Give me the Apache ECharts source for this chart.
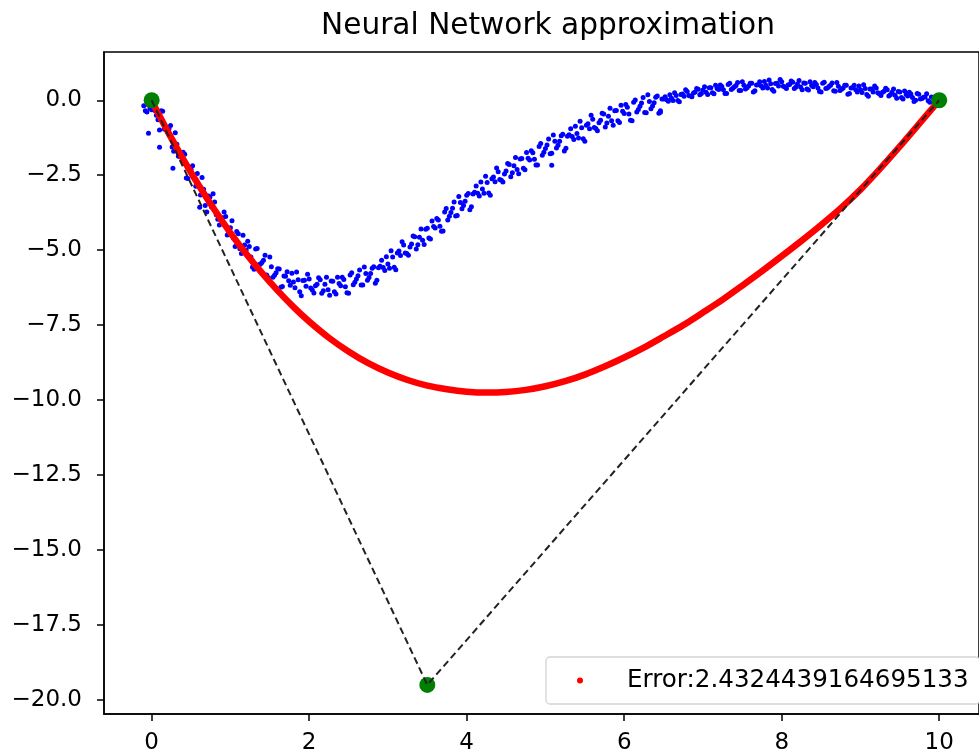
<!DOCTYPE html>
<html>
<head>
<meta charset="utf-8">
<script src="https://cdn.jsdelivr.net/npm/echarts@6/dist/echarts.min.js"></script>
<style>
  html, body { margin: 0; padding: 0; background: #fff; }
  #chart { width: 979px; height: 755px; }
</style>
</head>
<body>
<div id="chart"></div>
<script>
var titleText = 'Neural Network approximation';
var legendName = 'Error:2.4324439164695133';

var xTicks = [0, 2, 4, 6, 8, 10];
var yTicks = [0, -2.5, -5, -7.5, -10, -12.5, -15, -17.5, -20];

// noisy samples (blue) in two passes
var bluePointsA = [
  [-0.10,-0.18],[-0.06,-0.39],[-0.02,-0.27],[0.02,-0.24],[0.06,-0.50],[0.10,-0.99],[0.14,-0.37],[0.18,-0.98],
  [0.22,-0.95],[0.26,-1.56],[0.30,-1.08],[0.34,-1.87],[0.38,-1.84],[0.42,-1.80],[0.46,-2.61],[0.50,-2.30],
  [0.54,-2.61],[0.58,-2.44],[0.62,-3.16],[0.66,-2.97],[0.70,-3.73],[0.74,-3.23],[0.78,-3.12],[0.82,-3.82],
  [0.86,-4.16],[0.90,-3.92],[0.94,-3.88],[0.98,-4.43],[1.02,-4.02],[1.06,-4.88],[1.10,-4.45],[1.14,-5.11],
  [1.18,-4.83],[1.22,-4.70],[1.26,-5.23],[1.30,-5.64],[1.34,-4.94],[1.38,-5.47],[1.42,-5.34],[1.46,-5.83],
  [1.50,-5.23],[1.54,-5.90],[1.58,-5.75],[1.62,-5.63],[1.66,-6.21],[1.70,-5.87],[1.74,-6.02],[1.78,-5.77],
  [1.82,-6.25],[1.86,-5.99],[1.90,-6.52],[1.94,-6.00],[1.98,-5.80],[2.02,-6.26],[2.06,-6.43],[2.10,-6.14],
  [2.14,-5.99],[2.18,-6.35],[2.22,-5.90],[2.26,-6.50],[2.30,-6.04],[2.34,-6.46],[2.38,-6.11],[2.42,-5.90],
  [2.46,-6.22],[2.50,-6.44],[2.54,-5.75],[2.58,-6.07],[2.62,-5.85],[2.66,-6.16],[2.70,-5.56],[2.74,-6.00],
  [2.78,-5.78],[2.82,-5.55],[2.86,-6.00],[2.90,-5.54],[2.94,-5.58],[2.98,-5.22],[3.02,-5.60],[3.06,-5.23],
  [3.10,-5.65],[3.14,-5.03],[3.18,-4.72],[3.22,-5.09],[3.26,-5.17],[3.30,-4.79],[3.34,-4.55],[3.38,-4.82],
  [3.42,-4.29],[3.46,-4.81],[3.50,-4.27],[3.54,-4.63],[3.58,-4.21],[3.62,-3.94],[3.66,-4.20],[3.70,-4.36],
  [3.74,-3.61],[3.78,-3.87],[3.82,-3.60],[3.86,-3.86],[3.90,-3.21],[3.94,-3.62],[3.98,-3.37],[4.02,-3.11],
  [4.06,-3.55],[4.10,-3.07],[4.14,-3.10],[4.18,-2.73],[4.22,-3.10],[4.26,-2.74],[4.30,-3.17],[4.34,-2.56],
  [4.38,-2.26],[4.42,-2.64],[4.46,-2.73],[4.50,-2.36],[4.54,-2.14],[4.58,-2.42],[4.62,-1.91],[4.66,-2.45],
  [4.70,-1.94],[4.74,-2.32],[4.78,-1.93],[4.82,-1.68],[4.86,-1.97],[4.90,-2.16],[4.94,-1.44],[4.98,-1.73],
  [5.02,-1.49],[5.06,-1.78],[5.10,-1.16],[5.14,-1.59],[5.18,-1.37],[5.22,-1.13],[5.26,-1.60],[5.30,-1.15],
  [5.34,-1.21],[5.38,-0.87],[5.42,-1.26],[5.46,-0.92],[5.50,-1.37],[5.54,-0.78],[5.58,-0.50],[5.62,-0.91],
  [5.66,-1.02],[5.70,-0.67],[5.74,-0.46],[5.78,-0.76],[5.82,-0.27],[5.86,-0.83],[5.90,-0.34],[5.94,-0.74],
  [5.98,-0.37],[6.02,-0.14],[6.06,-0.46],[6.10,-0.68],[6.14,0.01],[6.18,-0.31],[6.22,-0.09],[6.26,-0.41],
  [6.30,0.18],[6.34,-0.28],[6.38,-0.08],[6.42,0.14],[6.46,-0.35],[6.50,0.04],[6.54,0.02],[6.58,0.18],
  [6.62,-0.01],[6.66,0.16],[6.70,-0.05],[6.74,0.21],[6.78,0.35],[6.82,0.16],[6.86,0.12],[6.90,0.28],
  [6.94,0.37],[6.98,0.23],[7.02,0.45],[7.06,0.19],[7.10,0.42],[7.14,0.22],[7.18,0.39],[7.22,0.51],
  [7.26,0.35],[7.30,0.23],[7.34,0.57],[7.38,0.40],[7.42,0.49],[7.46,0.33],[7.50,0.62],[7.54,0.38],
  [7.58,0.48],[7.62,0.57],[7.66,0.32],[7.70,0.52],[7.74,0.48],[7.78,0.63],[7.82,0.41],[7.86,0.55],
  [7.90,0.30],[7.94,0.57],[7.98,0.69],[8.02,0.47],[8.06,0.39],[8.10,0.53],[8.14,0.60],[8.18,0.44],
  [8.22,0.66],[8.26,0.35],[8.30,0.57],[8.34,0.34],[8.38,0.49],[8.42,0.59],[8.46,0.41],[8.50,0.28],
  [8.54,0.60],[8.58,0.41],[8.62,0.50],[8.66,0.32],[8.70,0.59],[8.74,0.33],[8.78,0.41],[8.82,0.50],
  [8.86,0.23],[8.90,0.42],[8.94,0.35],[8.98,0.48],[9.02,0.26],[9.06,0.39],[9.10,0.13],[9.14,0.38],
  [9.18,0.48],[9.22,0.25],[9.26,0.16],[9.30,0.30],[9.34,0.35],[9.38,0.18],[9.42,0.38],[9.46,0.07],
  [9.50,0.28],[9.54,0.04],[9.58,0.19],[9.62,0.27],[9.66,0.09],[9.70,0.00],[9.74,0.20],[9.78,0.06],
  [9.82,0.11],[9.86,-0.02],[9.90,0.11],[9.94,-0.02],[9.98,0.03],
  [-0.04,-1.10],[0.10,-1.57],[0.27,-2.27],[0.61,-3.57],[5.08,-2.17],[6.46,-0.40]
];
var bluePointsB = [
  [-0.08,-0.35],[-0.04,-0.16],[0.00,-0.32],[0.04,-0.34],[0.08,-0.65],[0.12,-0.35],[0.16,-0.96],[0.20,-0.96],
  [0.24,-0.84],[0.28,-1.70],[0.32,-1.47],[0.36,-1.87],[0.40,-1.73],[0.44,-2.59],[0.48,-2.23],[0.52,-2.18],
  [0.56,-2.87],[0.60,-2.85],[0.64,-2.58],[0.68,-3.51],[0.72,-3.19],[0.76,-3.56],[0.80,-3.39],[0.84,-3.97],
  [0.88,-3.93],[0.92,-3.73],[0.96,-4.49],[1.00,-4.25],[1.04,-4.60],[1.08,-4.38],[1.12,-4.95],[1.16,-4.50],
  [1.20,-4.99],[1.24,-4.88],[1.28,-5.56],[1.32,-4.96],[1.36,-5.49],[1.40,-5.41],[1.44,-5.17],[1.48,-5.91],
  [1.52,-5.55],[1.56,-5.84],[1.60,-5.62],[1.64,-6.24],[1.68,-5.86],[1.72,-5.72],[1.76,-6.17],[1.80,-6.06],
  [1.84,-5.73],[1.88,-6.39],[1.92,-6.01],[1.96,-6.20],[2.00,-5.96],[2.04,-6.33],[2.08,-6.19],[2.12,-5.92],
  [2.16,-6.44],[2.20,-6.14],[2.24,-6.32],[2.28,-6.03],[2.32,-6.39],[2.36,-5.90],[2.40,-6.19],[2.44,-5.98],
  [2.48,-6.42],[2.52,-5.83],[2.56,-6.15],[2.60,-5.96],[2.64,-5.66],[2.68,-6.16],[2.72,-5.78],[2.76,-5.91],
  [2.80,-5.60],[2.84,-6.10],[2.88,-5.59],[2.92,-5.34],[2.96,-5.68],[3.00,-5.46],[3.04,-5.02],[3.08,-5.57],
  [3.12,-5.09],[3.16,-5.18],[3.20,-4.83],[3.24,-5.11],[3.28,-4.89],[3.32,-4.53],[3.36,-4.96],[3.40,-4.57],
  [3.44,-4.67],[3.48,-4.30],[3.52,-4.59],[3.56,-4.03],[3.60,-4.26],[3.64,-3.99],[3.68,-4.37],[3.72,-3.73],
  [3.76,-3.99],[3.80,-3.74],[3.84,-3.39],[3.88,-3.84],[3.92,-3.41],[3.96,-3.51],[4.00,-3.17],[4.04,-3.65],
  [4.08,-3.13],[4.12,-2.86],[4.16,-3.19],[4.20,-2.96],[4.24,-2.53],[4.28,-3.09],[4.32,-2.62],[4.36,-2.72],
  [4.40,-2.38],[4.44,-2.67],[4.48,-2.46],[4.52,-2.11],[4.56,-2.55],[4.60,-2.18],[4.64,-2.31],[4.68,-1.96],
  [4.72,-2.27],[4.76,-1.74],[4.80,-1.99],[4.84,-1.75],[4.88,-2.16],[4.92,-1.54],[4.96,-1.83],[5.00,-1.61],
  [5.04,-1.29],[5.08,-1.77],[5.12,-1.37],[5.16,-1.50],[5.20,-1.18],[5.24,-1.69],[5.28,-1.20],[5.32,-0.95],
  [5.36,-1.31],[5.40,-1.11],[5.44,-0.70],[5.48,-1.28],[5.52,-0.83],[5.56,-0.95],[5.60,-0.63],[5.64,-0.94],
  [5.68,-0.75],[5.72,-0.43],[5.76,-0.89],[5.80,-0.53],[5.84,-0.68],[5.88,-0.35],[5.92,-0.68],[5.96,-0.17],
  [6.00,-0.44],[6.04,-0.23],[6.08,-0.67],[6.12,-0.07],[6.16,-0.39],[6.20,-0.20],[6.24,0.09],[6.28,-0.42],
  [6.32,-0.04],[6.36,-0.19],[6.40,0.10],[6.44,-0.43],[6.48,0.04],[6.52,0.12],[6.56,-0.03],[6.60,0.07],
  [6.64,0.25],[6.68,-0.01],[6.72,0.19],[6.76,0.13],[6.80,0.29],[6.84,0.14],[6.88,0.24],[6.92,0.39],
  [6.96,0.18],[7.00,0.34],[7.04,0.27],[7.08,0.42],[7.12,0.25],[7.16,0.50],[7.20,0.36],[7.24,0.46],
  [7.28,0.23],[7.32,0.53],[7.36,0.36],[7.40,0.45],[7.44,0.59],[7.48,0.33],[7.52,0.50],[7.56,0.42],
  [7.60,0.57],[7.64,0.28],[7.68,0.51],[7.72,0.62],[7.76,0.41],[7.80,0.50],[7.84,0.68],[7.88,0.36],
  [7.92,0.56],[7.96,0.48],[8.00,0.62],[8.04,0.44],[8.08,0.51],[8.12,0.64],[8.16,0.39],[8.20,0.54],
  [8.24,0.44],[8.28,0.58],[8.32,0.38],[8.36,0.62],[8.40,0.45],[8.44,0.53],[8.48,0.29],[8.52,0.57],
  [8.56,0.39],[8.60,0.46],[8.64,0.58],[8.68,0.30],[8.72,0.47],[8.76,0.37],[8.80,0.50],[8.84,0.20],
  [8.88,0.41],[8.92,0.50],[8.96,0.28],[9.00,0.35],[9.04,0.52],[9.08,0.19],[9.12,0.38],[9.16,0.28],
  [9.20,0.41],[9.24,0.22],[9.28,0.27],[9.32,0.40],[9.36,0.14],[9.40,0.27],[9.44,0.17],[9.48,0.29],
  [9.52,0.09],[9.56,0.31],[9.60,0.14],[9.64,0.21],[9.68,-0.04],[9.72,0.23],[9.76,0.04],[9.80,0.10],
  [9.84,0.22],[9.88,-0.07],[9.92,0.08],[9.96,-0.02]
];

// network output (red)
var redX = [0, 0.2, 0.4, 0.6, 0.8, 1.0, 1.2, 1.4, 1.6, 1.8, 2.0, 2.25, 2.5, 2.75, 3.0, 3.25, 3.5, 3.75, 4.0, 4.25,
            4.5, 4.75, 5.0, 5.25, 5.5, 5.75, 6.0, 6.25, 6.5, 6.75, 7.0, 7.25, 7.5, 7.75, 8.0, 8.25, 8.5, 8.75, 9.0,
            9.25, 9.5, 9.75, 10.0];
var redY = [-0.02, -1.02, -1.96, -2.84, -3.66, -4.42, -5.12, -5.76, -6.35, -6.89, -7.38, -7.92, -8.38, -8.77, -9.08,
            -9.33, -9.52, -9.64, -9.72, -9.75, -9.73, -9.66, -9.54, -9.37, -9.15, -8.88, -8.58, -8.25, -7.88, -7.5,
            -7.08, -6.65, -6.18, -5.7, -5.2, -4.69, -4.16, -3.6, -2.98, -2.28, -1.54, -0.77, 0.0];

// control points (green)
var greenX = [0, 3.5, 10];
var greenY = [0, -19.5, 0];

var FONT = 'DejaVu Sans';

function zip(a, b) {
  return a.map(function (v, i) { return [v, b[i]]; });
}

var myChart = echarts.init(document.getElementById('chart'));

var option = {
  animation: false,
  backgroundColor: '#fff',
  title: {
    text: titleText,
    left: 543,
    top: 6,
    textAlign: 'center',
    textStyle: { fontFamily: FONT, fontSize: 29.6, fontWeight: 'normal', color: '#000' }
  },
  legend: {
    left: 546,
    top: 657,
    padding: [11, 11, 11, 31],
    itemWidth: 6,
    itemHeight: 6,
    backgroundColor: '#fff',
    borderColor: '#d4d4d4',
    borderWidth: 1.3,
    borderRadius: 4,
    textStyle: { fontFamily: FONT, fontSize: 24.6, color: '#000', padding: [0, 0, 0, 39] },
    data: [{ name: legendName, icon: 'circle' }]
  },
  grid: {
    left: 104,
    top: 52,
    width: 882,
    height: 662,
    show: true,
    borderColor: '#000',
    borderWidth: 1.5,
    containLabel: false
  },
  xAxis: {
    type: 'value',
    min: -0.605,
    max: 10.505,
    splitLine: { show: false },
    axisLine: { onZero: false, lineStyle: { color: '#000', width: 1.5 } },
    axisTick: { show: true, length: 7, lineStyle: { color: '#000', width: 1.5 }, customValues: xTicks },
    axisLabel: {
      customValues: xTicks,
      margin: 18,
      color: '#000',
      fontFamily: FONT,
      fontSize: 23,
      formatter: function (v) { return String(v); }
    }
  },
  yAxis: {
    type: 'value',
    min: -20.47,
    max: 1.61,
    splitLine: { show: false },
    axisLine: { onZero: false, lineStyle: { color: '#000', width: 1.5 } },
    axisTick: { show: true, length: 7, lineStyle: { color: '#000', width: 1.5 }, customValues: yTicks },
    axisLabel: {
      customValues: yTicks,
      margin: 22,
      color: '#000',
      fontFamily: FONT,
      fontSize: 23,
      formatter: function (v) { return v.toFixed(1).replace('-', '\u2212'); }
    }
  },
  series: [
    {
      name: 'samples',
      type: 'scatter',
      data: bluePointsA.concat(bluePointsB),
      symbolSize: 5,
      itemStyle: { color: '#0000ff', opacity: 1 },
      z: 2
    },
    {
      name: legendName,
      type: 'line',
      data: zip(redX, redY),
      smooth: 0.3,
      showSymbol: false,
      symbol: 'circle',
      lineStyle: { color: '#ff0000', width: 6.5 },
      itemStyle: { color: '#ff0000' },
      z: 3
    },
    {
      name: 'points',
      type: 'scatter',
      data: zip(greenX, greenY),
      symbolSize: 16,
      itemStyle: { color: '#008000', opacity: 1 },
      z: 4
    },
    {
      name: 'polyline',
      type: 'line',
      data: zip(greenX, greenY),
      showSymbol: false,
      lineStyle: { color: '#222', width: 2, type: [7, 4] },
      z: 5
    }
  ]
};

myChart.setOption(option);
window.addEventListener('resize', myChart.resize);
</script>
</body>
</html>
